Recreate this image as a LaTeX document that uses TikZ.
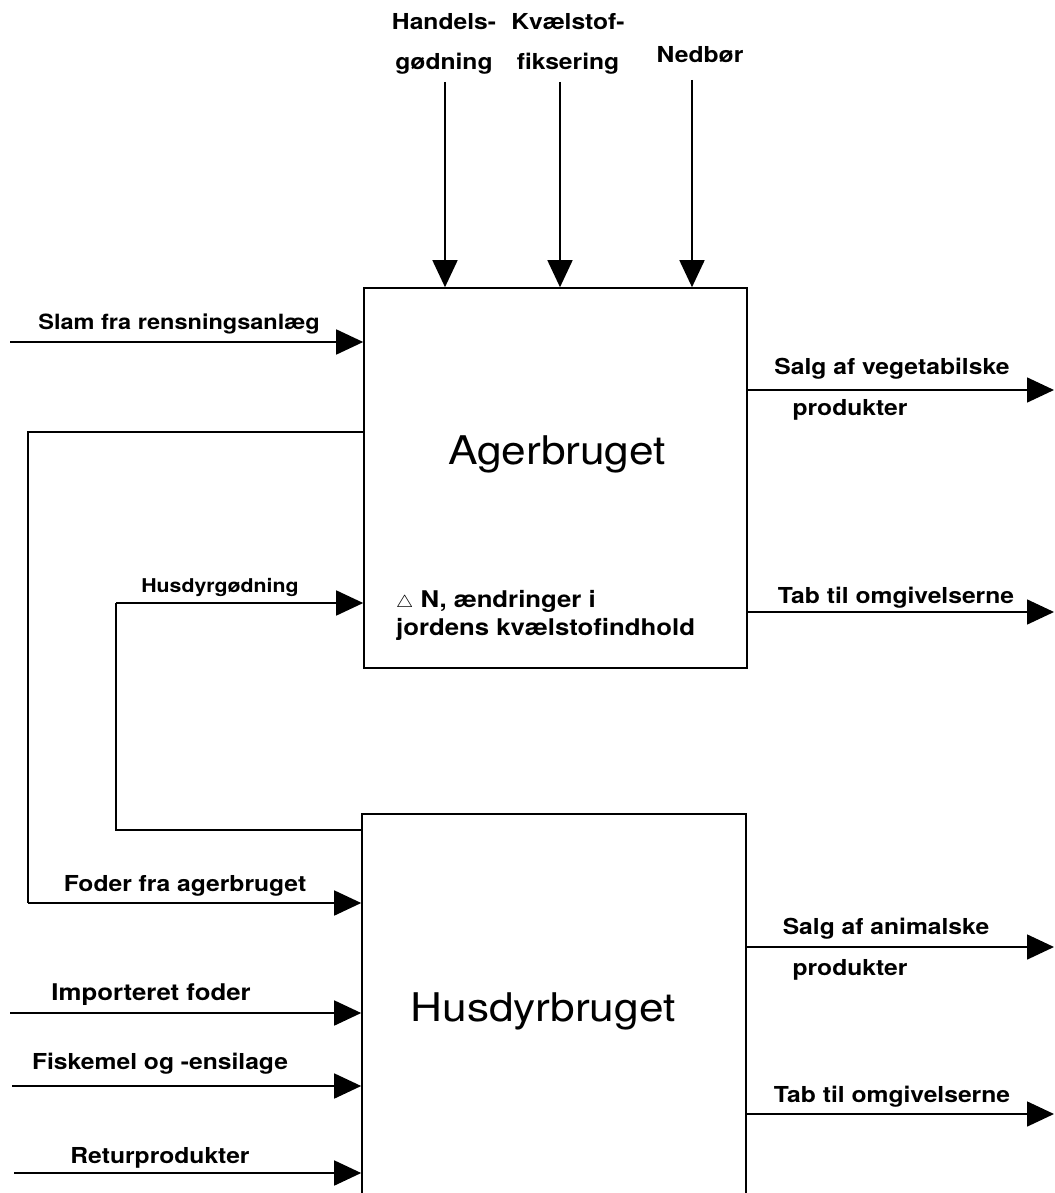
\documentclass[tikz,border=0pt]{standalone}
\usepackage{graphicx}
\usepackage{fontspec}
\setmainfont{TeX Gyre Heros}
\usetikzlibrary{arrows.meta}
\newcommand\wtxt[1]{\scalebox{1.12}[1]{#1}}
\begin{document}
\begin{tikzpicture}[x=1pt,y=-1pt,
  flow/.style={line width=1.6pt,-{Triangle[length=27pt,width=25pt]}},
  plain/.style={line width=1.6pt},
  box/.style={draw,line width=1.6pt,rectangle,inner sep=0pt},
  lbl/.style={font=\fontsize{22}{40}\selectfont\bfseries,inner sep=0pt,align=center},
  title/.style={font=\fontsize{39.5}{44}\selectfont,inner sep=0pt}]
\useasboundingbox (0,0) rectangle (1054,1193);
\clip (0,0) rectangle (1054,1193);
\fill[white] (0,0) rectangle (1054,1193);
% boxes
\node[box,minimum width=383pt,minimum height=380pt] (ager) at (555.5,478) {};
\node[box,minimum width=384pt,minimum height=400pt] (husdyr) at (554,1014) {};
\node[title] (tager) at (557,454) {\wtxt{Agerbruget}};
\node[title] (thus) at (543,1011) {\wtxt{Husdyrbruget}};
\node[lbl,align=left,anchor=north west,font=\fontsize{23}{28}\selectfont\bfseries] (dn) at (396,590) {\wtxt{{\fontsize{17}{17}\selectfont$\triangle$} N, ændringer i}\\\wtxt{jordens kvælstofindhold}};
% top inputs
\coordinate (h1) at (445,82);
\coordinate (h2) at (560,82);
\coordinate (h3) at (692,80);
\draw[flow] (h1) -- (h1 |- ager.north);
\draw[flow] (h2) -- (h2 |- ager.north);
\draw[flow] (h3) -- (h3 |- ager.north);
\node[lbl] (l1) at (444,44) {\wtxt{Handels-}\\\wtxt{gødning}};
\node[lbl] (l2) at (568,44) {\wtxt{Kvælstof-}\\\wtxt{fiksering}};
\node[lbl] (l3) at (700,55) {\wtxt{Nedbør}};
% slam
\coordinate (s0) at (10,342);
\draw[flow] (s0) -- (s0 -| ager.west);
\node[lbl,font=\fontsize{21}{24}\selectfont\bfseries] (ls) at (179,324) {\wtxt{Slam fra rensningsanlæg}};
% foder fra agerbruget
\coordinate (f0) at (364,432);
\coordinate (f1) at (28,432);
\coordinate (f2) at (28,903);
\draw[plain] (f0 -| ager.west) -- (f1) -- (f2);
\draw[flow] (f2) -- (f2 -| husdyr.west);
\node[lbl] (lf) at (185,886) {\wtxt{Foder fra agerbruget}};
% husdyrgødning
\coordinate (g0) at (362,830);
\coordinate (g1) at (116,830);
\coordinate (g2) at (116,603);
\draw[plain] (g0 -| husdyr.west) -- (g1) -- (g2);
\draw[flow] (g2) -- (g2 -| ager.west);
\node[lbl,font=\fontsize{19}{24}\selectfont\bfseries] (lg) at (220,587) {\wtxt{Husdyrgødning}};
% outputs ager
\coordinate (o1) at (1054,390);
\coordinate (o2) at (1054,612);
\draw[flow] (o1 -| ager.east) -- (o1);
\draw[flow] (o2 -| ager.east) -- (o2);
\node[lbl] (lo1) at (892,369) {\wtxt{Salg af vegetabilske}};
\node[lbl] (lo1b) at (850,410) {\wtxt{produkter}};
\node[lbl] (lo2) at (896,598) {\wtxt{Tab til omgivelserne}};
% outputs husdyr
\coordinate (o3) at (1054,947);
\coordinate (o4) at (1054,1114);
\draw[flow] (o3 -| husdyr.east) -- (o3);
\draw[flow] (o4 -| husdyr.east) -- (o4);
\node[lbl] (lo3) at (886,929) {\wtxt{Salg af animalske}};
\node[lbl] (lo3b) at (850,970) {\wtxt{produkter}};
\node[lbl] (lo4) at (892,1097) {\wtxt{Tab til omgivelserne}};
% husdyr inputs
\coordinate (i1) at (10,1013);
\coordinate (i2) at (12,1086);
\coordinate (i3) at (14,1173);
\draw[flow] (i1) -- (i1 -| husdyr.west);
\draw[flow] (i2) -- (i2 -| husdyr.west);
\draw[flow] (i3) -- (i3 -| husdyr.west);
\node[lbl,font=\fontsize{23}{26}\selectfont\bfseries] (li1) at (151,995) {\wtxt{Importeret foder}};
\node[lbl] (li2) at (160,1064) {\wtxt{Fiskemel og -ensilage}};
\node[lbl] (li3) at (160,1158) {\wtxt{Returprodukter}};
\end{tikzpicture}
\end{document}
